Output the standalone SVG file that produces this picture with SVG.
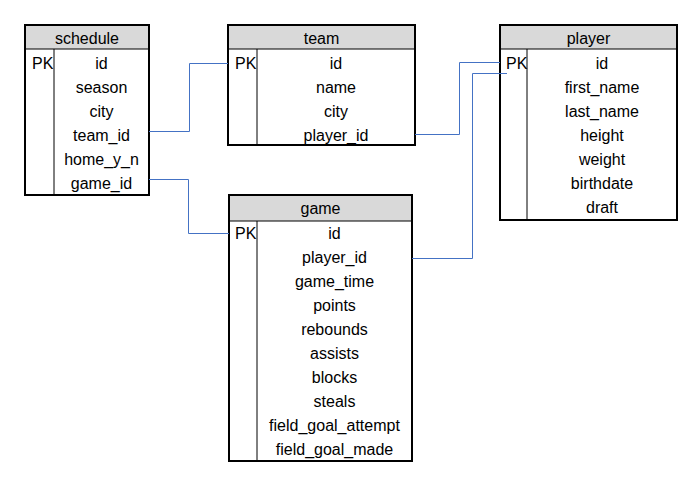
<svg xmlns="http://www.w3.org/2000/svg" width="694" height="487" viewBox="0 0 694 487">
<style>
.box{fill:#fff;stroke:#000;stroke-width:2}
.hdr{fill:#d9d9d9}
.ln{stroke:#000;stroke-width:1;fill:none}
text{font-family:"Liberation Sans",Arial,sans-serif;font-size:16px;fill:#000;dominant-baseline:central}
.c{text-anchor:middle}
.conn{fill:none;stroke:#4472c4;stroke-width:1}
</style>
<rect width="694" height="487" fill="#fff"/>
<g id="schedule">
<rect class="box" x="25" y="25" width="124" height="170"/>
<rect class="hdr" x="26" y="26" width="122" height="23"/>
<line class="ln" x1="25" y1="49" x2="149" y2="49"/>
<line class="ln" x1="54" y1="49" x2="54" y2="195"/>
<text class="c" x="87" y="38">schedule</text>
<text x="32" y="63">PK</text>
<text class="c" x="101.5" y="63">id</text>
<text class="c" x="101.5" y="87">season</text>
<text class="c" x="101.5" y="111">city</text>
<text class="c" x="101.5" y="135">team_id</text>
<text class="c" x="101.5" y="159">home_y_n</text>
<text class="c" x="101.5" y="183">game_id</text>
</g>
<g id="team">
<rect class="box" x="228" y="25" width="187" height="120"/>
<rect class="hdr" x="229" y="26" width="185" height="23"/>
<line class="ln" x1="228" y1="49" x2="415" y2="49"/>
<line class="ln" x1="257" y1="49" x2="257" y2="145"/>
<text class="c" x="321.5" y="38">team</text>
<text x="235" y="63">PK</text>
<text class="c" x="336" y="63">id</text>
<text class="c" x="336" y="87">name</text>
<text class="c" x="336" y="111">city</text>
<text class="c" x="336" y="135">player_id</text>
</g>
<g id="player">
<rect class="box" x="500" y="25" width="177" height="195"/>
<rect class="hdr" x="501" y="26" width="175" height="23"/>
<line class="ln" x1="500" y1="49" x2="677" y2="49"/>
<line class="ln" x1="527" y1="49" x2="527" y2="220"/>
<text class="c" x="588.5" y="38">player</text>
<text x="506" y="63">PK</text>
<text class="c" x="602" y="63">id</text>
<text class="c" x="602" y="87">first_name</text>
<text class="c" x="602" y="111">last_name</text>
<text class="c" x="602" y="135">height</text>
<text class="c" x="602" y="159">weight</text>
<text class="c" x="602" y="183">birthdate</text>
<text class="c" x="602" y="207">draft</text>
</g>
<g id="game">
<rect class="box" x="229" y="195" width="183" height="266"/>
<rect class="hdr" x="230" y="196" width="181" height="25"/>
<line class="ln" x1="229" y1="221" x2="412" y2="221"/>
<line class="ln" x1="257" y1="221" x2="257" y2="461"/>
<text class="c" x="320.5" y="208">game</text>
<text x="235" y="233">PK</text>
<text class="c" x="334.5" y="233">id</text>
<text class="c" x="334.5" y="257">player_id</text>
<text class="c" x="334.5" y="281">game_time</text>
<text class="c" x="334.5" y="305">points</text>
<text class="c" x="334.5" y="329">rebounds</text>
<text class="c" x="334.5" y="353">assists</text>
<text class="c" x="334.5" y="377">blocks</text>
<text class="c" x="334.5" y="401">steals</text>
<text class="c" x="334.5" y="425">field_goal_attempt</text>
<text class="c" x="334.5" y="449">field_goal_made</text>
</g>
<g id="connectors">
<path class="conn" d="M149,131.5 H189.5 V63.5 H228"/>
<path class="conn" d="M149,179.5 H188.5 V233.5 H229"/>
<path class="conn" d="M415,134.5 H459.5 V62.5 H500"/>
<path class="conn" d="M412,258.5 H472.5 V73.5 H507" stroke="#8eaadb"/>
</g>
</svg>
